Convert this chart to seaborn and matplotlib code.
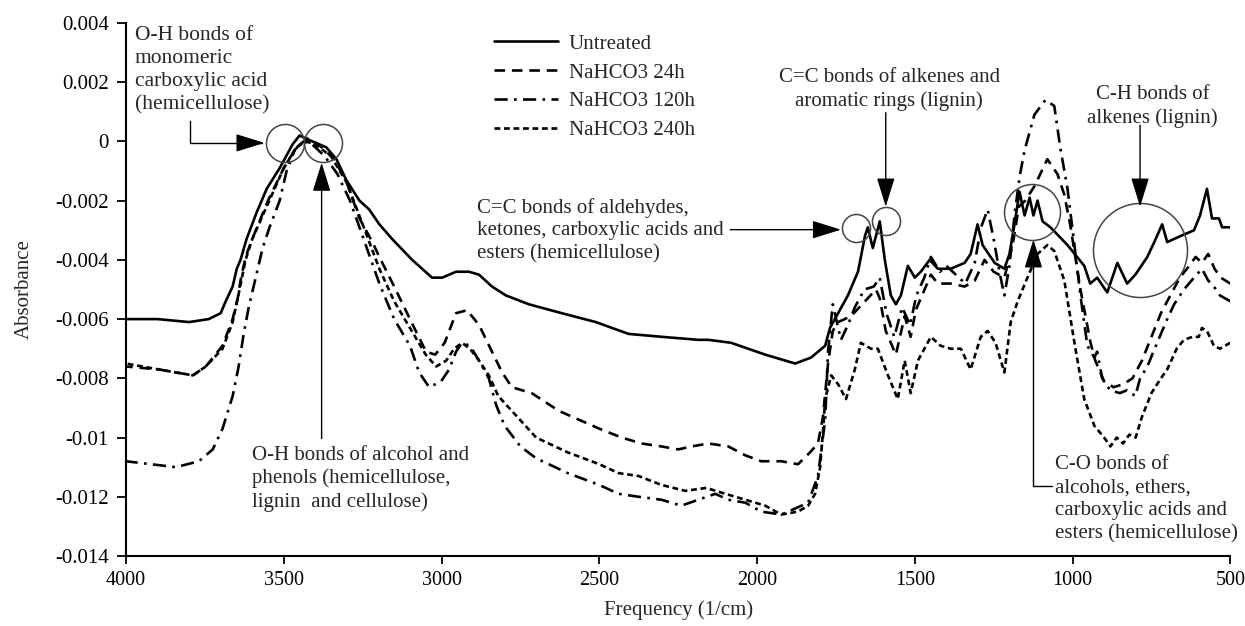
import matplotlib
matplotlib.use("Agg")
import matplotlib.pyplot as plt
import seaborn as sns
import pandas as pd
from matplotlib.ticker import FuncFormatter, MultipleLocator

# ---------------- data (wavenumber 1/cm, absorbance) ----------------
untreated_x = [4000, 3900, 3800, 3738, 3700, 3684, 3662, 3649, 3637, 3618, 3586, 3554, 3513, 3472, 3450,
               3430, 3409, 3365, 3333, 3302, 3260, 3229, 3197, 3156, 3093, 3030, 2998, 2954, 2913, 2881,
               2840, 2796, 2723, 2619, 2511, 2407, 2300, 2186, 2154, 2082, 1974, 1879, 1829, 1784, 1769,
               1743, 1712, 1680, 1658, 1649, 1633, 1611, 1595, 1576, 1560, 1544, 1522, 1500, 1481, 1453,
               1427, 1386, 1342, 1323, 1301, 1285, 1247, 1216, 1200, 1184, 1168, 1152, 1136, 1124, 1111,
               1095, 1070, 1016, 963, 944, 922, 890, 858, 827, 801, 763, 741, 716, 700, 659, 615, 596,
               574, 558, 536, 526, 500]
untreated_y = [-0.0060, -0.0060, -0.0061, -0.0060, -0.0058, -0.0054, -0.0049, -0.0043, -0.0040, -0.0033,
               -0.0024, -0.0016, -0.0009, -0.0001, 0.0002, 0.0001, 0.0000, -0.0002, -0.0006, -0.0013,
               -0.0020, -0.0023, -0.0028, -0.0033, -0.0040, -0.0046, -0.0046, -0.0044, -0.0044, -0.0045,
               -0.0049, -0.0052, -0.0055, -0.0058, -0.0061, -0.0065, -0.0066, -0.0067, -0.0067, -0.0068,
               -0.0072, -0.0075, -0.0073, -0.0069, -0.0063, -0.0058, -0.0052, -0.0044, -0.0032, -0.0029,
               -0.0036, -0.0027, -0.0040, -0.0052, -0.0055, -0.0052, -0.0042, -0.0046, -0.0044, -0.0040,
               -0.0043, -0.0043, -0.0041, -0.0038, -0.0028, -0.0035, -0.0041, -0.0043, -0.0038, -0.0028,
               -0.0017, -0.0025, -0.0019, -0.0025, -0.0020, -0.0027, -0.0029, -0.0035, -0.0042, -0.0048,
               -0.0046, -0.0051, -0.0041, -0.0048, -0.0045, -0.0039, -0.0034, -0.0028, -0.0034, -0.0032,
               -0.0030, -0.0025, -0.0016, -0.0026, -0.0026, -0.0029, -0.0029]

h24_x = [4000, 3896, 3788, 3747, 3694, 3662, 3646, 3637, 3621, 3600, 3550, 3500, 3460, 3425, 3390, 3340,
         3300, 3260, 3219, 3197, 3150, 3100, 3049, 3020, 2990, 2954, 2919, 2881, 2840, 2808, 2777, 2714,
         2628, 2500, 2429, 2366, 2303, 2249, 2208, 2154, 2091, 2037, 1987, 1923, 1870, 1832, 1807, 1791,
         1775, 1760, 1743, 1702, 1658, 1623, 1611, 1592, 1560, 1532, 1513, 1497, 1449, 1427, 1386, 1342,
         1310, 1279, 1250, 1216, 1190, 1170, 1150, 1120, 1080, 1048, 1026, 1006, 975, 943, 928, 900, 870,
         840, 810, 780, 750, 720, 690, 660, 630, 610, 590, 570, 550, 530, 500]
h24_y = [-0.0076, -0.0077, -0.0079, -0.0076, -0.0069, -0.0060, -0.0053, -0.0047, -0.0039, -0.0033,
         -0.0020, -0.0009, -0.0002, 0.0001, -0.0001, -0.0006, -0.0014, -0.0026, -0.0034, -0.0039, -0.0049,
         -0.0060, -0.0071, -0.0072, -0.0068, -0.0058, -0.0057, -0.0062, -0.0071, -0.0078, -0.0083, -0.0085,
         -0.0091, -0.0097, -0.0100, -0.0102, -0.0103, -0.0104, -0.0103, -0.0102, -0.0103, -0.0106, -0.0108,
         -0.0108, -0.0109, -0.0105, -0.0102, -0.0093, -0.0075, -0.0064, -0.0061, -0.0059, -0.0054, -0.0050,
         -0.0053, -0.0064, -0.0072, -0.0059, -0.0066, -0.0057, -0.0045, -0.0048, -0.0048, -0.0049, -0.0047,
         -0.0040, -0.0044, -0.0046, -0.0035, -0.0022, -0.0020, -0.0015, -0.0006, -0.0011, -0.0018, -0.0029,
         -0.0050, -0.0068, -0.0074, -0.0081, -0.0083, -0.0082, -0.0080, -0.0074, -0.0066, -0.0058, -0.0052,
         -0.0046, -0.0042, -0.0039, -0.0041, -0.0038, -0.0043, -0.0046, -0.0048]

h120_x = [4000, 3842, 3769, 3725, 3694, 3662, 3643, 3627, 3611, 3589, 3567, 3545, 3513, 3491, 3466, 3440,
          3410, 3370, 3330, 3290, 3250, 3197, 3150, 3100, 3071, 3039, 3001, 2976, 2954, 2935, 2910, 2881,
          2850, 2827, 2800, 2750, 2700, 2600, 2500, 2439, 2375, 2303, 2240, 2186, 2132, 2091, 2037, 1987,
          1923, 1880, 1838, 1807, 1784, 1775, 1760, 1734, 1712, 1690, 1660, 1630, 1611, 1590, 1565, 1540,
          1515, 1495, 1470, 1449, 1420, 1400, 1370, 1340, 1310, 1290, 1269, 1250, 1230, 1216, 1200, 1184,
          1168, 1152, 1121, 1086, 1058, 1039, 1016, 994, 975, 953, 931, 922, 906, 881, 850, 827, 801, 786,
          763, 732, 700, 678, 647, 615, 590, 570, 552, 533, 500]
h120_y = [-0.0108, -0.0110, -0.0108, -0.0104, -0.0097, -0.0086, -0.0076, -0.0065, -0.0056, -0.0046,
          -0.0036, -0.0029, -0.0020, -0.0010, -0.0003, 0.0000, -0.0001, -0.0005, -0.0011, -0.0020, -0.0032,
          -0.0048, -0.0060, -0.0069, -0.0078, -0.0083, -0.0081, -0.0077, -0.0071, -0.0068, -0.0069, -0.0074,
          -0.0080, -0.0089, -0.0096, -0.0103, -0.0107, -0.0112, -0.0116, -0.0119, -0.0120, -0.0121, -0.0123,
          -0.0121, -0.0119, -0.0121, -0.0122, -0.0125, -0.0126, -0.0124, -0.0122, -0.0113, -0.0094, -0.0071,
          -0.0055, -0.0067, -0.0062, -0.0056, -0.0050, -0.0049, -0.0046, -0.0058, -0.0066, -0.0056, -0.0062,
          -0.0052, -0.0046, -0.0039, -0.0044, -0.0042, -0.0045, -0.0048, -0.0041, -0.0029, -0.0023, -0.0033,
          -0.0045, -0.0052, -0.0042, -0.0025, -0.0012, -0.0003, 0.0009, 0.0014, 0.0012, -0.0002, -0.0016,
          -0.0035, -0.0052, -0.0069, -0.0073, -0.0071, -0.0080, -0.0084, -0.0085, -0.0084, -0.0086, -0.0080,
          -0.0076, -0.0068, -0.0060, -0.0055, -0.0050, -0.0046, -0.0043, -0.0047, -0.0049, -0.0052, -0.0054]

h240_x = [4000, 3896, 3788, 3747, 3694, 3662, 3640, 3621, 3600, 3550, 3500, 3460, 3430, 3400, 3350, 3300,
          3250, 3197, 3150, 3100, 3050, 3017, 2985, 2960, 2935, 2910, 2881, 2850, 2820, 2777, 2700, 2600,
          2500, 2439, 2375, 2303, 2227, 2161, 2100, 2037, 1974, 1923, 1870, 1838, 1816, 1800, 1791, 1784,
          1765, 1743, 1718, 1690, 1671, 1639, 1617, 1585, 1554, 1532, 1513, 1490, 1449, 1418, 1386, 1354,
          1323, 1291, 1269, 1244, 1216, 1196, 1174, 1143, 1111, 1080, 1058, 1026, 994, 963, 931, 900, 880,
          860, 840, 820, 800, 780, 750, 720, 700, 670, 647, 620, 600, 590, 574, 552, 533, 500]
h240_y = [-0.0075, -0.0077, -0.0079, -0.0076, -0.0070, -0.0061, -0.0050, -0.0040, -0.0033, -0.0021,
          -0.0009, -0.0002, 0.0000, -0.0001, -0.0005, -0.0014, -0.0028, -0.0043, -0.0054, -0.0063, -0.0072,
          -0.0076, -0.0074, -0.0070, -0.0068, -0.0070, -0.0074, -0.0079, -0.0086, -0.0091, -0.0100, -0.0105,
          -0.0109, -0.0112, -0.0113, -0.0116, -0.0118, -0.0117, -0.0119, -0.0121, -0.0123, -0.0126, -0.0125,
          -0.0123, -0.0119, -0.0110, -0.0098, -0.0087, -0.0079, -0.0082, -0.0087, -0.0077, -0.0068, -0.0070,
          -0.0070, -0.0079, -0.0087, -0.0074, -0.0085, -0.0074, -0.0066, -0.0069, -0.0070, -0.0070, -0.0077,
          -0.0066, -0.0064, -0.0068, -0.0078, -0.0061, -0.0054, -0.0046, -0.0038, -0.0035, -0.0037, -0.0047,
          -0.0068, -0.0087, -0.0096, -0.0100, -0.0103, -0.0100, -0.0102, -0.0099, -0.0100, -0.0093, -0.0085,
          -0.0080, -0.0077, -0.0070, -0.0067, -0.0066, -0.0066, -0.0063, -0.0064, -0.0069, -0.0070, -0.0068]

series_names = ["Untreated", "NaHCO3 24h", "NaHCO3 120h", "NaHCO3 240h"]
x_ticks = [4000, 3500, 3000, 2500, 2000, 1500, 1000, 500]

# ---------------- style ----------------
sns.set_style("ticks")
plt.rcParams['font.family'] = ['Liberation Serif', 'DejaVu Serif']
plt.rcParams['axes.unicode_minus'] = False

fig = plt.figure(figsize=(12.45, 6.26), dpi=100)
ax = fig.add_axes([0.1012, 0.1118, 0.8870, 0.8515])

styles = ['-', (0, (4, 2.6)), (0, (5, 2.4, 1, 2.4)), (0, (2.2, 1.4))]
data = [(untreated_x, untreated_y), (h24_x, h24_y), (h120_x, h120_y), (h240_x, h240_y)]
for (xs, ys), name, ls in zip(data, series_names, styles):
    df = pd.DataFrame({"Frequency": xs, "Absorbance": ys})
    sns.lineplot(data=df, x="Frequency", y="Absorbance", ax=ax, color="black",
                 linewidth=1.9, linestyle=ls, label=name, estimator=None)

ax.set_xlim(4000, 500)
ax.set_ylim(-0.014, 0.004)
ax.set_xticks(x_ticks)
ax.yaxis.set_major_locator(MultipleLocator(0.002))
ax.yaxis.set_major_formatter(FuncFormatter(lambda v, p: ("%g" % round(v, 4)) if abs(v) > 1e-9 else "0"))
ax.tick_params(axis='both', labelsize=15, width=1.3, colors='black', direction='out')
ax.tick_params(axis='y', length=6.5, pad=6)
ax.tick_params(axis='x', labelsize=14.5, length=6, pad=5)
for s in ['top', 'right']:
    ax.spines[s].set_visible(False)
for s in ['left', 'bottom']:
    ax.spines[s].set_linewidth(1.5)
    ax.spines[s].set_color('black')
ax.set_xlabel("Frequency (1/cm)", fontsize=15, labelpad=7)
ax.set_ylabel("Absorbance", fontsize=15, labelpad=15)

leg = ax.legend(loc='upper left', bbox_to_anchor=(0.333, 0.979), frameon=False, fontsize=15,
                handlelength=3.1, handletextpad=0.5, labelspacing=0.44, borderpad=0, borderaxespad=0)

# ---------------- annotations ----------------
circ_kw = dict(marker='o', mfc='none', mec='#444444', mew=1.1, linestyle='none', clip_on=False)
circles = [(3497, -0.00005, 27.4), (3377, -0.00005, 27.4), (1686, -0.00294, 20.2),
           (1592, -0.00268, 20.2), (1127, -0.00237, 40.3), (786, -0.00365, 67.7)]
for cx, cy, d in circles:
    ax.plot([cx], [cy], markersize=d, **circ_kw)

arrow = dict(arrowstyle='-|>,head_length=0.9,head_width=0.28', color='black', lw=1.0,
             shrinkA=0, shrinkB=0, mutation_scale=20)
fs = 15
ls_txt = 1.27
ax.text(3972, 0.0039, "O-H bonds of\nmonomeric\ncarboxylic acid\n(hemicellulose)", fontsize=15.5,
        va='top', ha='left', linespacing=1.3)
ax.annotate("", xy=(3561, -0.00005), xytext=(3798, 0.0007),
            arrowprops=dict(connectionstyle="angle,angleA=90,angleB=0,rad=0", **arrow))
ax.text(3602, -0.01027, "O-H bonds of alcohol and\nphenols (hemicellulose,\nlignin  and cellulose)",
        fontsize=fs, va='top', ha='left', linespacing=ls_txt)
ax.annotate("", xy=(3380, -0.00072), xytext=(3380, -0.01003), arrowprops=arrow)
ax.text(2887, -0.0019, "C=C bonds of aldehydes,\nketones, carboxylic acids and\nesters (hemicellulose)",
        fontsize=fs, va='top', ha='left', linespacing=ls_txt)
ax.annotate("", xy=(1734, -0.00298), xytext=(2085, -0.00298), arrowprops=arrow)
ax.text(1581, 0.00248, "C=C bonds of alkenes and\naromatic rings (lignin)", fontsize=fs,
        va='top', ha='center', multialignment='center', linespacing=ls_txt)
ax.annotate("", xy=(1592, -0.0022), xytext=(1592, 0.00097), arrowprops=arrow)
ax.text(747, 0.00191, "C-H bonds of\nalkenes (lignin)", fontsize=fs, va='top', ha='center',
        multialignment='center', linespacing=1.33)
ax.annotate("", xy=(786, -0.0022), xytext=(786, 0.00055), arrowprops=arrow)
ax.text(1057, -0.0106, "C-O bonds of\nalcohols, ethers,\ncarboxylic acids and\nesters (hemicellulose)",
        fontsize=fs, va='top', ha='left', linespacing=ls_txt, clip_on=False)
ax.annotate("", xy=(1124, -0.00331), xytext=(1064, -0.01164),
            arrowprops=dict(connectionstyle="angle,angleA=0,angleB=90,rad=0", **arrow))

fig.savefig("out.png", dpi=100)
